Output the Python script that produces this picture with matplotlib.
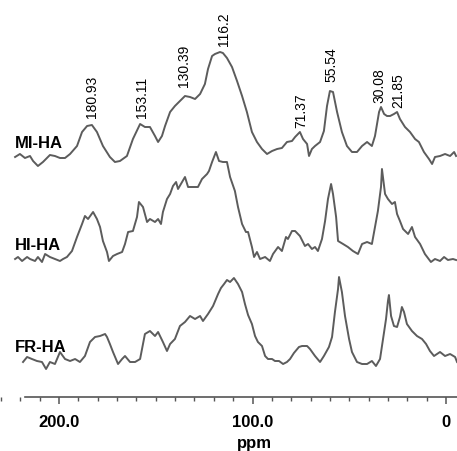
import matplotlib
matplotlib.use("Agg")
import matplotlib.pyplot as plt
import numpy as np
from matplotlib.ticker import MultipleLocator

plt.rcParams['font.family'] = ['Liberation Sans', 'DejaVu Sans']

# 13C NMR spectra of three humic acids (ppm, relative intensity)
mi_ppm = [222.7, 220.2, 217.6, 215.0, 213.4, 210.9, 208.3, 204.7, 202.1, 199.5, 196.9, 194.3,
          190.7, 188.1, 185.5, 183.0, 180.4, 177.3, 173.7, 171.1, 168.5, 164.9, 161.8, 158.1,
          155.6, 153.0, 150.4, 148.8, 146.8, 145.2, 142.6, 140.1, 137.5, 134.9, 132.3, 129.7,
          127.1, 124.6, 123.0, 120.9, 119.4, 116.8, 115.3, 113.2, 110.6, 108.0, 105.4, 102.9,
          100.3, 97.7, 95.1, 92.5, 89.9, 87.3, 84.8, 82.2, 79.6, 78.0, 75.5, 73.9, 71.8, 70.8,
          69.3, 67.7, 65.1, 63.1, 61.5, 60.0, 58.4, 56.3, 53.8, 51.2, 48.6, 46.0, 43.4, 40.8,
          38.3, 36.7, 34.6, 33.6, 32.0, 30.5, 28.9, 26.9, 25.3, 23.8, 21.2, 18.6, 16.0, 14.0,
          11.4, 8.8, 7.2, 5.7, 3.1, 0.5, -2.1, -4.2, -5.2]
mi_int = [2, 5, 1, 3, -2, -7, -3, 4, 3, 1, 1, 5, 13, 27, 33, 34, 27, 13, 2, -3, -2, 3, 20, 35,
          32, 32, 23, 17, 23, 33, 47, 53, 58, 63, 62, 60, 65, 75, 90, 103, 105, 107, 106, 101,
          92, 78, 63, 47, 27, 17, 10, 5, 8, 10, 11, 17, 18, 22, 27, 20, 15, 3, 10, 13, 17, 28,
          53, 68, 67, 47, 27, 13, 7, 7, 13, 17, 13, 23, 47, 52, 45, 43, 43, 45, 47, 40, 32, 27,
          20, 17, 7, 0, -5, 2, 3, 5, 3, 7, 3]

hi_ppm = [222.7, 221.2, 219.1, 216.5, 215.0, 212.4, 210.9, 208.8, 207.2, 204.7, 202.1, 199.5,
          197.9, 195.9, 193.3, 190.7, 188.1, 186.6, 185.0, 182.4, 180.4, 178.8, 177.3, 175.2,
          174.2, 172.1, 170.0, 167.4, 165.9, 164.3, 161.8, 159.7, 158.7, 156.6, 154.5, 153.0,
          150.4, 148.8, 147.3, 146.3, 144.2, 142.6, 141.1, 139.5, 138.5, 136.4, 134.9, 133.3,
          130.8, 128.2, 126.1, 123.5, 122.5, 120.9, 118.9, 117.3, 115.3, 113.2, 111.6, 109.1,
          107.5, 105.4, 103.4, 102.3, 100.3, 99.2, 97.7, 96.1, 93.5, 91.0, 89.4, 86.8, 84.8,
          82.7, 81.7, 79.6, 78.0, 75.5, 72.9, 71.3, 69.3, 67.7, 66.2, 64.1, 62.5, 61.0, 59.4,
          58.4, 56.8, 55.8, 53.2, 50.7, 48.1, 45.5, 43.4, 40.8, 38.3, 36.7, 35.2, 33.6, 33.1,
          31.5, 30.0, 27.9, 26.4, 25.3, 23.8, 22.2, 19.6, 17.6, 16.0, 13.4, 10.9, 7.8, 5.7,
          3.1, 1.0, -1.0, -3.6, -5.2]
hi_int = [2, 4, 0, 4, 2, 0, 4, -1, 7, 4, 2, 0, 2, 4, 10, 24, 37, 45, 42, 49, 42, 34, 20, 9,
          0, 5, 7, 9, 17, 29, 30, 44, 59, 54, 39, 42, 39, 42, 37, 49, 62, 67, 75, 79, 72, 79,
          84, 74, 74, 74, 82, 87, 90, 99, 109, 100, 99, 99, 84, 70, 54, 37, 29, 29, 14, 4, 9,
          2, 4, 0, 7, 14, 10, 24, 22, 30, 30, 25, 15, 17, 12, 14, 10, 22, 40, 62, 77, 67, 44,
          20, 17, 14, 10, 7, 17, 19, 17, 34, 50, 74, 92, 67, 62, 57, 59, 47, 40, 32, 27, 34,
          24, 17, 7, -1, 2, 0, 4, 1, 2, 1]

fr_ppm = [218.6, 216.5, 214.0, 211.4, 208.8, 206.7, 204.7, 202.1, 199.5, 196.9, 194.3, 191.7,
          189.2, 186.6, 184.0, 181.4, 178.8, 176.2, 175.2, 173.7, 172.1, 169.5, 167.4, 165.9,
          163.3, 160.7, 158.1, 155.6, 153.0, 150.4, 148.8, 146.3, 144.2, 142.6, 140.1, 137.5,
          134.9, 132.3, 129.7, 127.1, 125.6, 123.0, 120.4, 117.8, 116.3, 114.7, 113.2, 111.6,
          109.6, 107.5, 105.4, 103.9, 102.3, 100.3, 98.7, 97.2, 95.1, 93.5, 92.0, 89.9, 88.4,
          86.3, 84.2, 82.2, 80.6, 78.6, 76.0, 74.4, 71.8, 70.3, 67.7, 65.1, 63.1, 60.5, 58.9,
          57.4, 55.8, 55.3, 53.8, 52.2, 50.1, 48.6, 46.0, 43.4, 40.8, 38.3, 36.2, 34.1, 32.0,
          31.0, 30.0, 29.5, 28.4, 26.9, 25.3, 23.8, 22.8, 21.7, 20.2, 17.6, 15.0, 12.4, 10.3,
          8.3, 6.2, 3.1, 0.5, -2.1, -4.7, -5.7]
fr_int = [2, 7, 5, 3, 2, -5, 2, 0, 12, 5, 3, 5, 2, 8, 22, 27, 28, 30, 27, 20, 12, 0, 5, 8, 2,
          2, 5, 30, 33, 28, 32, 22, 13, 20, 25, 38, 42, 48, 45, 48, 43, 50, 58, 70, 76, 80, 84,
          82, 86, 80, 72, 60, 49, 40, 28, 22, 18, 8, 5, 5, 3, 3, 0, 2, 5, 11, 17, 18, 18, 15,
          8, 2, 8, 17, 27, 52, 75, 87, 72, 48, 25, 12, 2, 0, 0, 3, -2, 5, 32, 45, 63, 69, 48,
          38, 37, 47, 57, 52, 40, 33, 28, 25, 20, 13, 8, 12, 8, 10, 7, 2]

names = ['MI-HA', 'HI-HA', 'FR-HA']
peak_labels = ['180.93', '153.11', '130.39', '116.2', '71.37', '55.54', '30.08', '21.85']

fig = plt.figure(figsize=(4.57, 4.52), dpi=100)
ax = fig.add_axes([0, 0, 1, 1])

line_kw = dict(color='#5c5c5c', lw=1.4, solid_joinstyle='round')
ax.plot(mi_ppm, np.array(mi_int) + 292, **line_kw)
ax.plot(hi_ppm, np.array(hi_int) + 190, **line_kw)
ax.plot(fr_ppm, np.array(fr_int) + 87, **line_kw)

# trace names
for name, y in zip(names, [309, 206, 104]):
    ax.text(222.7, y, name, fontsize=12, fontweight='bold', ha='left', va='center')

# peak assignments on the MI-HA trace
peak_x = [183.0, 157.1, 135.4, 114.7, 75.0, 59.4, 34.6, 24.8]
peak_y = [334, 334, 365, 406, 324, 370, 349, 344]
for lab, px, py in zip(peak_labels, peak_x, peak_y):
    ax.text(px, py, lab, fontsize=10, rotation=90, ha='center', va='bottom')

ax.set_xlim(230.5, -5.68)
ax.set_ylim(0, 452)

for s in ['left', 'right', 'top']:
    ax.spines[s].set_visible(False)
ax.spines['bottom'].set_position(('data', 54))
ax.spines['bottom'].set_bounds(217.6, -5.7)
ax.spines['bottom'].set_color('#555555')
ax.spines['bottom'].set_linewidth(1.2)
ax.set_yticks([])

ax.set_xticks([200, 100, 0])
ax.set_xticklabels(['200.0', '100.0', '0'], fontsize=12, fontweight='bold')
ax.xaxis.set_minor_locator(MultipleLocator(10))
ax.tick_params(axis='x', which='major', direction='out', length=5, width=1.1,
               color='#555555', pad=7)
ax.tick_params(axis='x', which='minor', direction='out', length=3, width=1.0,
               color='#555555')

ax.text(99.2, 1, 'ppm', fontsize=12, fontweight='bold', ha='center', va='bottom')

fig.savefig('out.png', dpi=100)
